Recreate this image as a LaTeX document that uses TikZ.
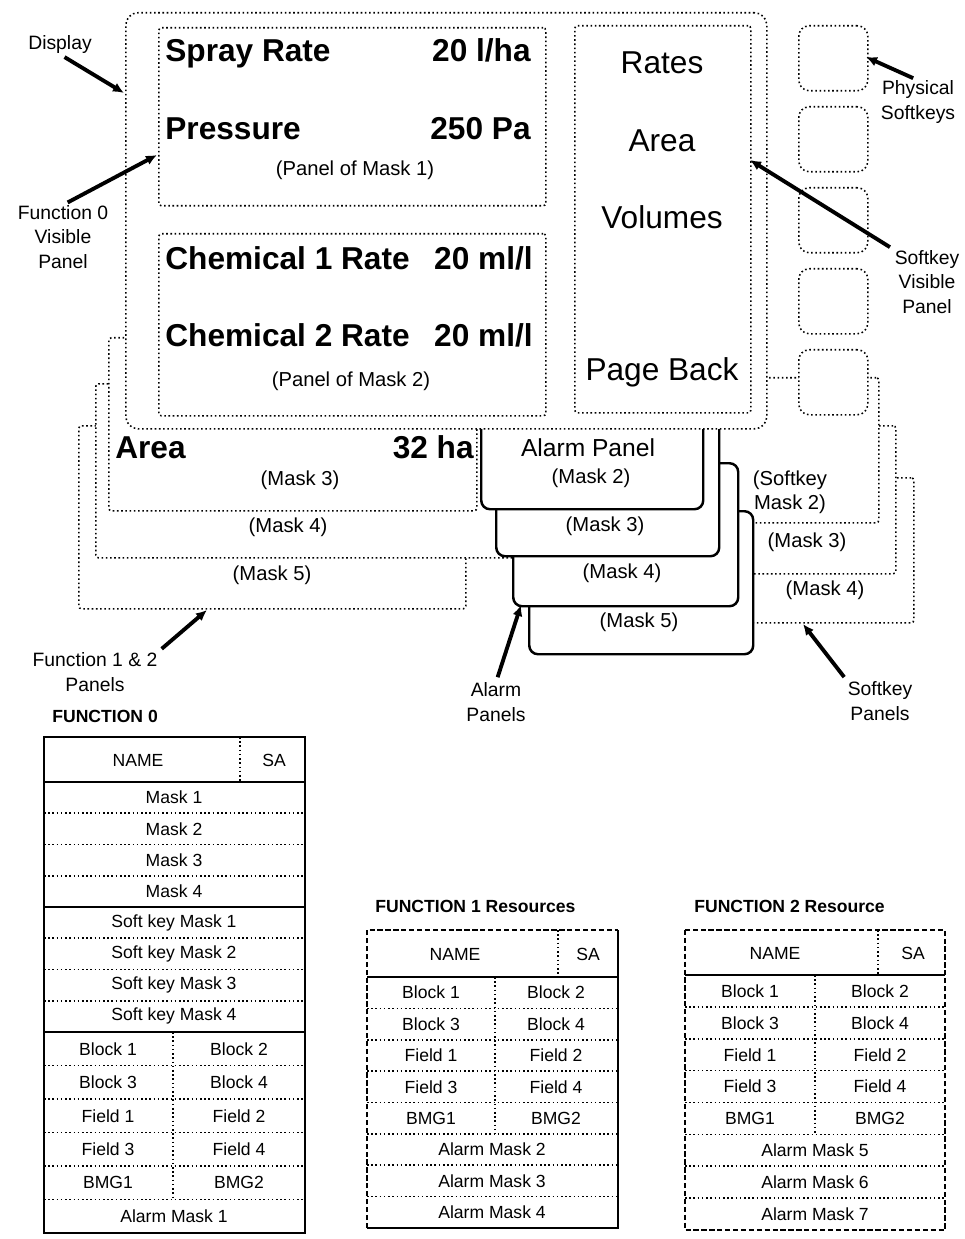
\documentclass[tikz,border=0pt]{standalone}
\usepackage{fontspec}
\setmainfont{Liberation Sans}
\usetikzlibrary{arrows.meta, positioning}

\begin{document}
\begin{tikzpicture}[
    x=0.2mm, y=-0.2mm,
    dotline/.style={line width=0.9pt, dash pattern=on 0.9pt off 1.5pt},
    panelbox/.style={rectangle, draw, dotline, fill=white, anchor=north west, inner sep=0pt, rounded corners=1.5pt},
    keybox/.style={panelbox, rounded corners=6pt, minimum width=13.8mm, minimum height=13mm},
    alarmbox/.style={rectangle, draw, line width=1.4pt, rounded corners=5pt, fill=white, anchor=north west, inner sep=0pt},
    bigtext/.style={font=\fontsize{18}{20}\selectfont\bfseries, inner sep=0pt},
    keytext/.style={font=\fontsize{18}{20}\selectfont, inner sep=0pt},
    masktext/.style={font=\fontsize{11.5}{13}\selectfont, inner sep=0pt},
    callout/.style={font=\fontsize{11}{14}\selectfont, align=center, inner sep=0pt},
    pointer/.style={-{Latex[length=2.2mm, width=2mm]}, line width=2.2pt, shorten <=3pt},
    tbltext/.style={font=\fontsize{10}{12}\selectfont, inner sep=0pt},
    tbltitle/.style={font=\fontsize{10}{12}\selectfont\bfseries, anchor=west, inner sep=0pt},
    tblline/.style={line width=1.5pt},
    tbldash/.style={line width=1.2pt, dash pattern=on 3pt off 1.5pt}
]
\useasboundingbox (0,0) rectangle (964,1239);

% function 1 & 2 panels (back to front)
\node[panelbox, minimum width=77.4mm, minimum height=36.6mm] (mask5) at (78,425) {};
\node[masktext] (mask5lbl) at (272,575) {(Mask 5)};
\node[panelbox, minimum width=84mm, minimum height=34.8mm] (mask4) at (95,383) {};
\node[masktext] (mask4lbl) at (288,527) {(Mask 4)};
\node[panelbox, minimum width=73.6mm, minimum height=34.6mm] (mask3) at (108,337) {};
\node[bigtext, anchor=base west] (areaname) at (115,458) {Area};
\node[bigtext, anchor=base east] (areaval) at (474,458) {32 ha};
\node[masktext] (mask3lbl) at (300,480) {(Mask 3)};

% softkey panels
\node[panelbox, minimum width=34.6mm, minimum height=29mm] (skmask4) at (740,477) {};
\node[masktext] (skmask4lbl) at (825,590) {(Mask 4)};
\node[panelbox, minimum width=37mm, minimum height=29.6mm] (skmask3) at (710,425) {};
\node[masktext] (skmask3lbl) at (807,542) {(Mask 3)};
\node[panelbox, minimum width=34.6mm, minimum height=29mm] (skmask2) at (705,377) {};
\node[masktext, align=center, font=\fontsize{11.5}{13.5}\selectfont] (skmask2lbl) at (790,492) {(Softkey\\Mask 2)};

% alarm panels
\node[alarmbox, minimum width=44.8mm, minimum height=28.6mm] (alarm4) at (528,510) {};
\node[masktext] (alarm4lbl) at (639,622) {(Mask 5)};
\node[alarmbox, minimum width=45mm, minimum height=28.6mm] (alarm3) at (512,462) {};
\node[masktext] (alarm3lbl) at (622,573) {(Mask 4)};
\node[alarmbox, minimum width=44.6mm, minimum height=31mm] (alarm2) at (495,400) {};
\node[masktext] (alarm2lbl) at (605,526) {(Mask 3)};
\node[alarmbox, minimum width=44.4mm, minimum height=21.6mm] (alarm1) at (480,400) {};
\node[font=\fontsize{14}{16}\selectfont, inner sep=0pt] (alarmtitle) at (588,448) {Alarm Panel};
\node[masktext] (alarm1lbl) at (591,478) {(Mask 2)};

% display
\node[panelbox, rounded corners=7pt, minimum width=128.2mm, minimum height=83.2mm] (display) at (125,12) {};
\node[panelbox, minimum width=77.4mm, minimum height=35.6mm] (panel1) at (158,27) {};
\node[bigtext, anchor=base west] (spray) at (165,62) {Spray Rate};
\node[bigtext, anchor=base east] (sprayval) at (531,62) {20 l/ha};
\node[bigtext, anchor=base west] (press) at (165,140) {Pressure};
\node[bigtext, anchor=base east] (pressval) at (531,140) {250 Pa};
\node[masktext] (panel1lbl) at (355,170) {(Panel of Mask 1)};
\node[panelbox, minimum width=77.4mm, minimum height=36.4mm] (panel2) at (158,233) {};
\node[bigtext, anchor=base west] (chem1) at (165,270) {Chemical 1 Rate};
\node[bigtext, anchor=base east] (chem1val) at (533,270) {20 ml/l};
\node[bigtext, anchor=base west] (chem2) at (165,347) {Chemical 2 Rate};
\node[bigtext, anchor=base east] (chem2val) at (533,347) {20 ml/l};
\node[masktext] (panel2lbl) at (351,381) {(Panel of Mask 2)};
\node[panelbox, minimum width=35.2mm, minimum height=77.4mm] (skpanel) at (574,25) {};
\node[keytext] (keyrates) at (662,63) {Rates};
\node[keytext] (keyarea) at (662,141) {Area};
\node[keytext] (keyvol) at (662,217) {Volumes};
\node[keytext] (keyback) at (662,372) {Page Back};

% physical softkeys
\foreach \i in {1,...,5}
    \node[keybox] (phys\i) at (798,{25+81*(\i-1)}) {};

% callouts
\node[callout] (lbldisp) at (60,45) {Display};
\node[callout] (lblf0) at (63,237) {Function 0\\Visible\\Panel};
\node[callout] (lblphys) at (918,102) {Physical\\Softkeys};
\node[callout] (lblskvis) at (927,282) {Softkey\\Visible\\Panel};
\node[callout] (lblf12) at (95,672) {Function 1 \& 2\\Panels};
\node[callout] (lblalarm) at (496,702) {Alarm\\Panels};
\node[callout] (lblskpan) at (880,701) {Softkey\\Panels};

\coordinate (dispmark) at (124,93);
\coordinate (f0mark) at (157,155);
\coordinate (physmark) at (866,57);
\coordinate (skvismark) at (750,160);
\coordinate (f12mark) at (207,610);
\coordinate (alarmmark) at (521,605);
\coordinate (skpanmark) at (803,624);

\draw[pointer] (lbldisp.south) -- (dispmark);
\draw[pointer] (lblf0.north) -- (f0mark);
\draw[pointer] (lblphys.north) -- (physmark);
\draw[pointer] (lblskvis.north west) -- (skvismark);
\draw[pointer] (lblf12.north east) -- (f12mark);
\draw[pointer] (lblalarm.north) -- (alarmmark);
\draw[pointer] (lblskpan.north west) -- (skpanmark);

% function 0 table
\node[tbltitle] (f0title) at (52,716) {FUNCTION 0};
\draw[tblline] (44,737) rectangle (305,1233);
\draw[tblline] (44,782) -- (305,782);
\draw[tblline] (44,907) -- (305,907);
\draw[tblline] (44,1032) -- (305,1032);
\draw[dotline] (240,737) -- (240,782);
\draw[dotline] (173,1032) -- (173,1199.5);
\foreach \y in {813.25,844.5,875.75,938.25,969.5,1000.75,1065.5,1099,1132.5,1166,1199.5}
    \draw[dotline] (44,\y) -- (305,\y);
\node[tbltext] (f0name) at (138,760) {NAME};
\node[tbltext] (f0sa) at (274,760) {SA};
\foreach \t [count=\i] in {Mask 1,Mask 2,Mask 3,Mask 4}
    \node[tbltext] (f0mask\i) at (174,{766.4+31.25*\i}) {\t};
\foreach \t [count=\i] in {Soft key Mask 1,Soft key Mask 2,Soft key Mask 3,Soft key Mask 4}
    \node[tbltext] (f0soft\i) at (174,{891.4+31.25*\i}) {\t};
\foreach \a/\b [count=\i] in {Block 1/Block 2,Block 3/Block 4,Field 1/Field 2,Field 3/Field 4,BMG1/BMG2} {
    \node[tbltext] (f0l\i) at (108,{1015.25+33.5*\i}) {\a};
    \node[tbltext] (f0r\i) at (239,{1015.25+33.5*\i}) {\b};
}
\node[tbltext] (f0alarm) at (174,1216) {Alarm Mask 1};

% function 1 table
\node[tbltitle] (f1title) at (375,906) {FUNCTION 1 Resources};
\draw[tblline] (618,930) -- (618,1228) -- (367,1228);
\draw[tbldash] (367,1228) -- (367,930) -- (618,930);
\draw[tblline] (367,977) -- (618,977);
\draw[dotline] (558,930) -- (558,977);
\draw[dotline] (495,977) -- (495,1133.9);
\foreach \i in {1,...,7}
    \draw[dotline] (367,{977+31.375*\i}) -- (618,{977+31.375*\i});
\node[tbltext] (f1name) at (455,954) {NAME};
\node[tbltext] (f1sa) at (588,954) {SA};
\foreach \a/\b [count=\i] in {Block 1/Block 2,Block 3/Block 4,Field 1/Field 2,Field 3/Field 4,BMG1/BMG2} {
    \node[tbltext] (f1l\i) at (431,{961.3+31.375*\i}) {\a};
    \node[tbltext] (f1r\i) at (556,{961.3+31.375*\i}) {\b};
}
\foreach \t [count=\i from 6] in {Alarm Mask 2,Alarm Mask 3,Alarm Mask 4}
    \node[tbltext] (f1alarm\i) at (492,{961.3+31.375*\i}) {\t};

% function 2 table
\node[tbltitle] (f2title) at (694,906) {FUNCTION 2 Resource};
\draw[tbldash] (685,930) rectangle (945,1230);
\draw[tblline] (685,975) -- (945,975);
\draw[dotline] (878,930) -- (878,975);
\draw[dotline] (815,975) -- (815,1134.4);
\foreach \i in {1,...,7}
    \draw[dotline] (685,{975+31.875*\i}) -- (945,{975+31.875*\i});
\node[tbltext] (f2name) at (775,953) {NAME};
\node[tbltext] (f2sa) at (913,953) {SA};
\foreach \a/\b [count=\i] in {Block 1/Block 2,Block 3/Block 4,Field 1/Field 2,Field 3/Field 4,BMG1/BMG2} {
    \node[tbltext] (f2l\i) at (750,{959.1+31.875*\i}) {\a};
    \node[tbltext] (f2r\i) at (880,{959.1+31.875*\i}) {\b};
}
\foreach \t [count=\i from 6] in {Alarm Mask 5,Alarm Mask 6,Alarm Mask 7}
    \node[tbltext] (f2alarm\i) at (815,{959.1+31.875*\i}) {\t};

\end{tikzpicture}
\end{document}
